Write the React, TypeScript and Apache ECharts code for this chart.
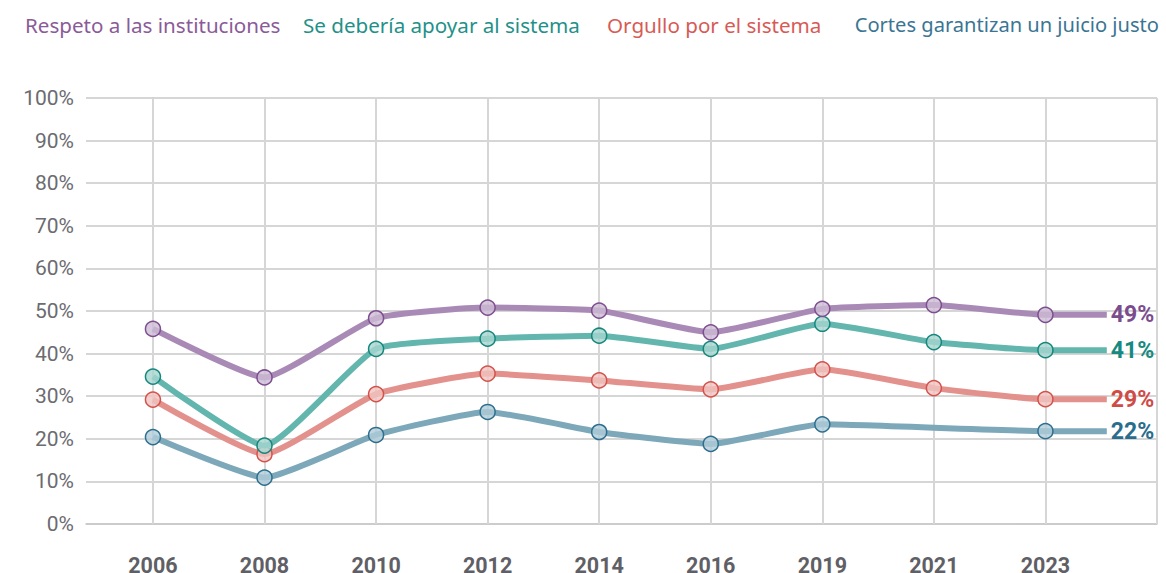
import React, { useEffect, useRef } from "react";
import * as echarts from "echarts";

const years = ["2006", "2008", "2010", "2012", "2014", "2016", "2019", "2021", "2023"];
const seriesNames = [
  "Respeto a las instituciones",
  "Se debería apoyar al sistema",
  "Orgullo por el sistema",
  "Cortes garantizan un juicio justo",
];
const respeto = [45.8, 34.4, 48.3, 50.8, 50.1, 45.0, 50.5, 51.4, 49.1];
const apoyar = [34.6, 18.4, 41.1, 43.5, 44.2, 41.1, 47.0, 42.7, 40.8];
const orgullo = [29.2, 16.4, 30.5, 35.3, 33.7, 31.6, 36.3, 31.9, 29.3];
const cortes: (number | null)[] = [20.4, 10.9, 20.9, 26.3, 21.6, 18.8, 23.4, null, 21.8];
const yTicks = [0, 10, 20, 30, 40, 50, 60, 70, 80, 90, 100];

const lineColors = ["#a98ab6", "#62b6ae", "#e3918c", "#7ca8ba"];
const markerBorders = ["#7e4f8f", "#15877d", "#d4524c", "#2e6f8f"];
const markerFills = ["rgba(205,188,214,0.8)", "rgba(168,214,208,0.8)", "rgba(240,196,192,0.8)", "rgba(176,204,216,0.8)"];
const labelColors = ["#7b4d8d", "#168a80", "#cf4c46", "#2a6d8c"];
const legendColors = ["#8a5b98", "#1f9189", "#d75b55", "#3a7593"];
const legendPos: any[] = [{ left: 14 }, { left: 292 }, { left: 596 }, { right: 2 }];

const X_MIN = -0.6;
const X_MAX = 9;
const END_X = 8.55;

export default function App() {
  const ref = useRef<HTMLDivElement>(null);
  useEffect(() => {
    document.body.style.margin = "0";
    const chart = echarts.init(ref.current!, undefined, { renderer: "svg" });
    const all = [respeto, apoyar, orgullo, cortes];
    const series: any[] = all.map((vals, si) => {
      const data: any[] = [];
      vals.forEach((v, i) => {
        if (v !== null) data.push({ value: [i, v] });
      });
      const last = vals[vals.length - 1] as number;
      data.push({ value: [END_X, last], symbol: "none" });
      const s: any = {
        name: seriesNames[si],
        type: "line",
        smooth: 0.15,
        symbol: "circle",
        symbolSize: 15,
        lineStyle: { color: lineColors[si], width: 6 },
        itemStyle: { color: markerFills[si], borderColor: markerBorders[si], borderWidth: 1.5 },
        data,
        z: 3 + (3 - si),
        endLabel: {
          show: true,
          distance: 4,
          formatter: (p: any) => Math.round(p.value[1]) + "%",
          color: labelColors[si],
          fontFamily: "Roboto",
          fontWeight: "bold",
          fontSize: 23,
        },
      };
      if (si === 0) {
        s.markLine = {
          silent: true,
          symbol: "none",
          label: { show: false },
          lineStyle: { color: "#d6d6d6", width: 2, type: "solid" },
          data: [...years.map((_, i) => ({ xAxis: i })), { xAxis: X_MAX }],
          z: 1,
        };
      }
      return s;
    });
    chart.setOption({
      animation: false,
      legend: seriesNames.map((n, i) => ({
        ...legendPos[i],
        top: 9,
        itemWidth: 0,
        itemHeight: 0,
        icon: "rect",
        selectedMode: false,
        textStyle: { fontFamily: "Noto Sans", fontSize: i === 3 ? 20.1 : 20.6, color: legendColors[i] },
        data: [n],
      })),
      grid: { left: 86, right: 9, top: 98, bottom: 49, containLabel: false, outerBoundsMode: "none" },
      xAxis: {
        type: "value",
        min: X_MIN,
        max: X_MAX,
        axisLine: { show: true, onZero: false, lineStyle: { color: "#c8c8c8", width: 1.5 } },
        axisTick: { show: false, customValues: years.map((_, i) => i) },
        splitLine: { show: false },
        axisLabel: {
          customValues: years.map((_, i) => i),
          formatter: (v: number) => years[Math.round(v)] ?? "",
          margin: 30,
          fontFamily: "Roboto",
          fontWeight: "bold",
          fontSize: 21.5,
          color: "#5f6066",
        },
      },
      yAxis: {
        type: "value",
        min: 0,
        max: 100,
        interval: 10,
        axisLine: { show: true, lineStyle: { color: "#c8c8c8", width: 1.5 } },
        axisTick: { show: false },
        splitLine: { lineStyle: { color: "#c8c8c8", width: 1.5 } },
        axisLabel: {
          customValues: yTicks,
          formatter: "{value}%",
          fontFamily: "Roboto",
          fontSize: 21,
          color: "#6b6b70",
          margin: 12,
        },
      },
      series,
    });
    return () => chart.dispose();
  }, []);
  return <div ref={ref} style={{ width: 1166, height: 573 }} />;
}
